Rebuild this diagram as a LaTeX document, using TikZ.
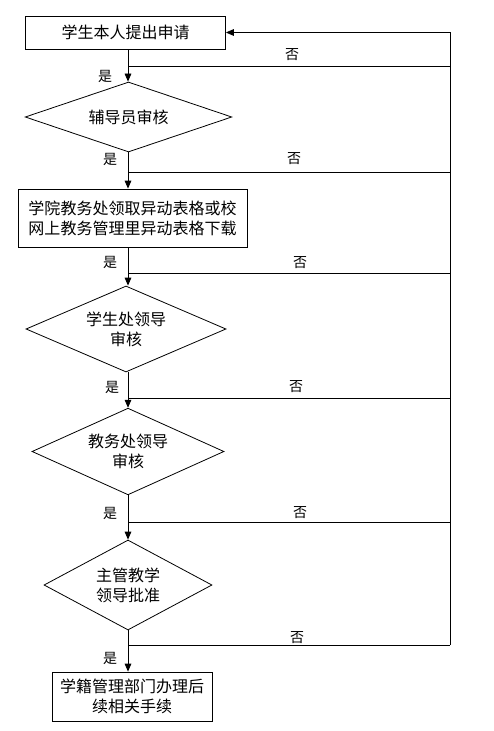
\documentclass[tikz,border=0pt]{standalone}
\usepackage{fontspec}
\setmainfont{Noto Sans CJK SC}
\usepackage{tikz}
\usetikzlibrary{positioning,arrows.meta,shapes.geometric}

\begin{document}
\begin{tikzpicture}[
  x=0.75pt, y=-0.75pt,
  font=\fontsize{12}{15}\selectfont,
  line width=0.6pt,
  stepbox/.style={draw, minimum height=24.75pt, align=center, inner sep=2pt},
  check/.style={draw, diamond, align=center, inner sep=0pt},
  lbl/.style={font=\fontsize{10.5}{12}\selectfont, inner sep=1pt},
  ar/.style={-{Triangle[length=6pt, width=5pt]}}]
\useasboundingbox (0,0) rectangle (493,731);
\node[stepbox, minimum width=150pt] (apply) at (125.5,32.5) {学生本人提出申请};
\node[check, minimum width=155pt, minimum height=52.5pt, aspect=2.9] (tutor) at (128.5,117) {辅导员审核};
\node[stepbox, minimum width=171.75pt, minimum height=43.5pt] (form) at (132.5,218)
  {学院教务处领取异动表格或校\\网上教务管理里异动表格下载};
\node[check, minimum width=150pt, minimum height=64.5pt, aspect=2.3] (stu) at (126,329) {学生处领导\\审核};
\node[check, minimum width=144pt, minimum height=65pt, aspect=2.2] (acad) at (128,451.5) {教务处领导\\审核};
\node[check, minimum width=126pt, minimum height=67.5pt, aspect=1.9] (dean) at (128,585) {主管教学\\领导批准};
\node[stepbox, minimum width=120pt, minimum height=36.75pt] (reg) at (132,696.5) {学籍管理部门办理后\\续相关手续};
% main line
\coordinate (trunk) at (128,0);
\foreach \a/\b in {apply/tutor, tutor/form, form/stu, stu/acad, acad/dean, dean/reg}
  \draw[ar] (trunk |- \a.south) -- (trunk |- \b.north);
% return lines
\foreach \i/\y in {1/66, 2/172, 3/273, 4/398, 5/522, 6/645} {
  \coordinate (no\i) at (128,\y);
  \coordinate (rail\i) at (450,\y);
  \draw (no\i) -- (rail\i);
}
\draw[ar] (rail6) -- (rail6 |- apply.east) -- (apply.east);
\foreach \i/\x/\y in {1/292/55, 2/294/159, 3/300/263, 4/296/387, 5/300/513, 6/297/638}
  \node[lbl] (fou\i) at (\x,\y) {否};
\foreach \i/\x/\y in {1/105/76, 2/110/159, 3/110/262, 4/112/387, 5/110/513, 6/110/658}
  \node[lbl] (shi\i) at (\x,\y) {是};
\end{tikzpicture}
\end{document}
